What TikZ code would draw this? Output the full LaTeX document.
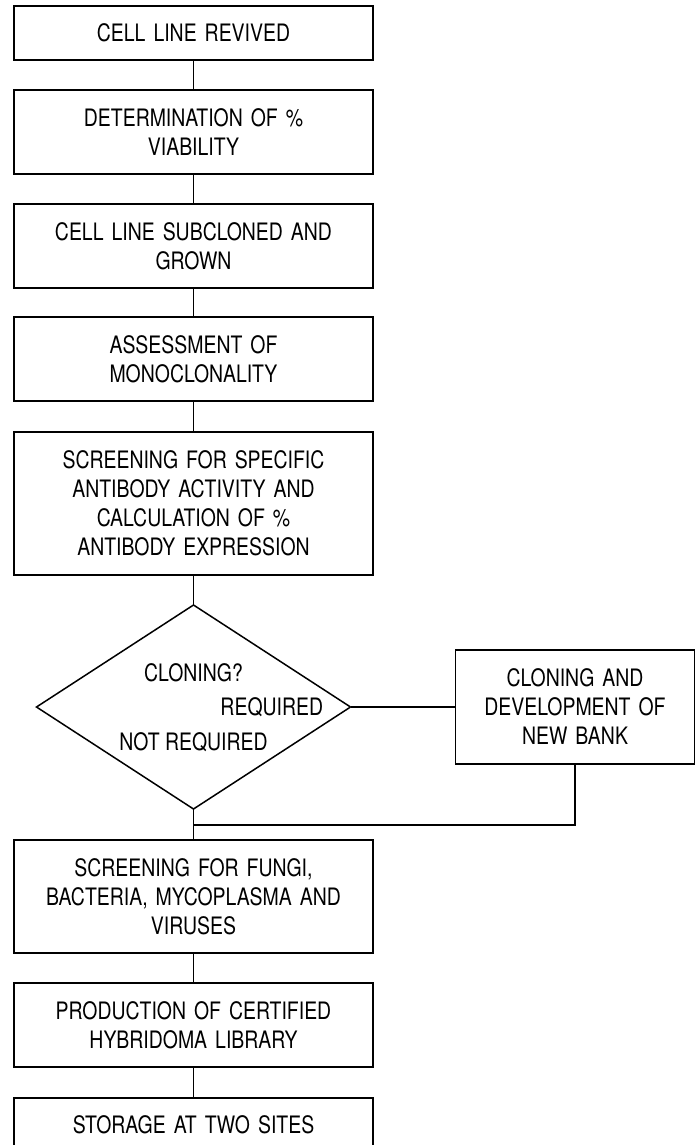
\documentclass[tikz,border=0pt]{standalone}
\usepackage{fontspec}
\setmainfont[FakeStretch=0.81]{TeX Gyre Heros}
\usetikzlibrary{positioning,shapes.geometric}

\tikzset{
  stage/.style={draw, line width=0.75pt, text width=179.5pt, align=center,
    inner sep=0pt, outer sep=0pt, font=\fontsize{12}{14.5}\selectfont},
  decision/.style={draw, line width=0.75pt, diamond, inner sep=0pt, outer sep=0pt,
    minimum width=157pt, minimum height=102pt},
  answer/.style={inner sep=0pt, font=\fontsize{12}{14.5}\selectfont},
  link/.style={line width=0.75pt}
}

\begin{document}
\begin{tikzpicture}[x=0.5pt,y=-0.5pt]
  \useasboundingbox (0,0) rectangle (699,1145);

  \node[stage, minimum height=27pt] (revived) at (193.5,33) {CELL LINE REVIVED};
  \node[stage, minimum height=42pt, below=15pt of revived] (viability) {DETERMINATION OF \%\\ VIABILITY};
  \node[stage, minimum height=42pt, below=15pt of viability] (subcloned) {CELL LINE SUBCLONED AND\\ GROWN};
  \node[stage, minimum height=42pt, below=14.5pt of subcloned] (monoclonal) {ASSESSMENT OF\\ MONOCLONALITY};
  \node[stage, minimum height=71.5pt, below=15.5pt of monoclonal] (antibody) {SCREENING FOR SPECIFIC\\ ANTIBODY ACTIVITY AND\\ CALCULATION OF \%\\ ANTIBODY EXPRESSION};
  \node[decision, below=15pt of antibody] (cloning) {};
  \node[stage, text width=119.5pt, minimum height=57pt, right=52.5pt of cloning] (newbank) {CLONING AND\\ DEVELOPMENT OF\\ NEW BANK};
  \node[stage, minimum height=56.5pt, below=15.5pt of cloning] (safety) {SCREENING FOR FUNGI,\\ BACTERIA, MYCOPLASMA AND\\ VIRUSES};
  \node[stage, minimum height=42pt, below=15pt of safety] (library) {PRODUCTION OF CERTIFIED\\ HYBRIDOMA LIBRARY};
  \node[stage, minimum height=27pt, below=15.5pt of library] (storage) {STORAGE AT TWO SITES};

  % decision labels
  \node[answer, above=17pt of cloning.center, anchor=center] (ask) {CLONING?};
  \node[answer, anchor=east] (yes) at ([xshift=-13.5pt]cloning.east) {REQUIRED};
  \node[answer, below=17.5pt of cloning.center, anchor=center] (no) {NOT REQUIRED};

  \coordinate (join) at ([yshift=-8pt]cloning.south);

  \draw[link] (revived) -- (viability);
  \draw[link] (viability) -- (subcloned);
  \draw[link] (subcloned) -- (monoclonal);
  \draw[link] (monoclonal) -- (antibody);
  \draw[link] (antibody) -- (cloning);
  \draw[link] (cloning.east) -- (newbank.west);
  \draw[link] (newbank.south) |- (join);
  \draw[link] (cloning.south) -- (safety.north);
  \draw[link] (safety) -- (library);
  \draw[link] (library) -- (storage);
\end{tikzpicture}
\end{document}
